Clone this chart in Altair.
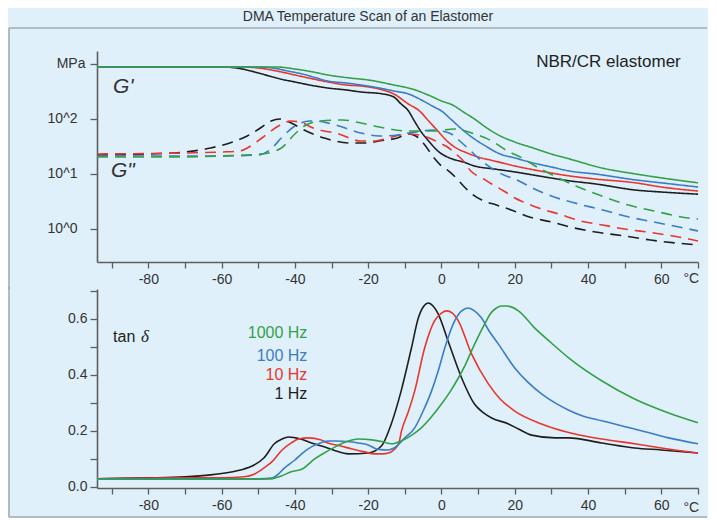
import altair as alt
import pandas as pd

FREQS = ["1 Hz", "10 Hz", "100 Hz", "1000 Hz"]
COLORS = ["#1e1e1e", "#e8362c", "#3a7cc6", "#34a048"]

# ---- G' storage modulus (MPa), solid lines ----
T_GP_1 = [-94, -60, -56, -52, -48, -44, -40, -36, -31, -26, -22, -16, -13, -11, -9, -7.4, -5.5, -3.5, -1, 3, 6, 9, 14.5, 20, 25, 35, 42, 53, 60, 70]
GP_1 = [882, 882, 846, 746, 631, 534, 471, 415, 366, 337, 310, 285, 251, 187, 140, 92, 58, 39.8, 26.2, 18.7, 16.5, 14.0, 12.3, 10.9, 9.6, 7.5, 6.6, 5.1, 4.7, 4.3]
T_GP_10 = [-94, -55, -50, -45, -40, -35, -31, -26, -22, -16, -13, -9, -6, -3.5, -1, 1.5, 4, 7, 10, 14.5, 20, 27, 35, 42, 53, 60, 70]
GP_10 = [882, 882, 846, 746, 631, 534, 471, 415, 398, 337, 285, 187, 140, 92, 60.5, 39.8, 29.7, 24.1, 20.4, 17.2, 14.0, 11.3, 9.2, 8.1, 6.9, 5.8, 4.9]
T_GP_100 = [-94, -50, -46, -42, -38, -35, -31, -26, -22, -17, -13, -9, -5, -2, 0, 2.5, 5.5, 9, 12, 16, 20, 24, 30, 35, 42, 53, 60, 70]
GP_100 = [882, 882, 846, 746, 658, 580, 491, 451, 415, 366, 323, 285, 213, 165, 140, 100, 65.8, 43.3, 32.3, 23.1, 19.6, 16.5, 13.4, 11.3, 10.0, 7.8, 6.9, 5.8]
T_GP_1000 = [-94, -45, -40, -35, -31, -25, -20, -13, -8, -3, 0, 3, 6, 9, 12, 15, 20, 25, 30, 35, 43.7, 53, 60, 70]
GP_1000 = [882, 882, 811, 715, 631, 556, 512, 415, 351, 262, 213, 180, 134, 100, 71.5, 53.4, 38.2, 29.7, 23.1, 18.7, 12.9, 10.0, 8.5, 6.9]

# ---- G'' loss modulus (MPa), dashed lines ----
T_GPP_1 = [-94, -80, -70, -63, -57, -53, -49, -46.5, -44, -41, -38, -32, -25, -20, -17, -12, -9, -7, -5, -2, 0, 2, 4, 6, 8, 11, 15, 19, 24, 30, 35, 42, 50, 57, 64, 70]
GPP_1 = [22.2, 23.1, 25.1, 29.7, 38.2, 49.1, 71.5, 92, 100, 84.6, 65.8, 45.1, 36.6, 36.6, 39.8, 45.1, 53.4, 49.1, 36.6, 19.6, 14.0, 11.3, 8.5, 6.05, 4.51, 3.37, 2.73, 2.22, 1.65, 1.34, 1.09, 0.882, 0.746, 0.631, 0.556, 0.512]
T_GPP_10 = [-94, -70, -60, -55, -53, -49, -44.5, -41, -38, -35, -28, -22, -18, -15.5, -9, -6, -2.7, 0, 2, 4, 6, 8, 11, 13.7, 17, 20, 23, 26.5, 32, 38, 44, 50, 58, 67.5, 70]
GPP_10 = [23.1, 24.1, 25.1, 26.2, 29.7, 45.1, 74.6, 92, 84.6, 68.6, 53.4, 39.8, 39.8, 43.3, 53.4, 51.2, 43.3, 35.1, 29.7, 23.1, 17.2, 11.3, 8.5, 6.58, 4.91, 3.66, 2.97, 2.41, 1.87, 1.40, 1.18, 1.0, 0.846, 0.658, 0.605]
T_GPP_100 = [-94, -60, -50, -46.5, -43.7, -40, -36, -34.7, -31, -28, -22, -17, -12, -9, -5, -2.7, 0, 2.7, 5, 7.4, 11, 14, 17, 20, 25.4, 30, 37.4, 44, 50, 58, 67.5, 70]
GPP_100 = [21.3, 21.3, 22.2, 28.5, 45.1, 74.6, 92, 92, 84.6, 74.6, 55.6, 49.1, 51.2, 55.6, 60.5, 63.1, 60.5, 53.4, 39.8, 28.5, 17.2, 12.3, 9.59, 8.11, 5.34, 3.98, 2.85, 2.22, 1.72, 1.34, 1.0, 0.92]
T_GPP_1000 = [-94, -70, -60, -49, -43.7, -40, -37.4, -33, -27, -22, -17, -9, -2, 3.6, 9, 13.7, 18, 22, 26.5, 32, 38, 43.7, 50, 58, 67.5, 70]
GPP_1000 = [20.4, 20.4, 21.3, 23.1, 29.7, 53.4, 74.6, 92, 95.9, 84.6, 71.5, 60.5, 60.5, 65.8, 53.4, 39.8, 26.2, 19.6, 12.9, 8.46, 5.56, 3.98, 2.85, 2.13, 1.58, 1.52]

# ---- tan delta ----
T_TAN_1 = [-94, -80, -70, -63, -57, -54.6, -51, -48.4, -45.6, -43.5, -41.8, -38.5, -35.5, -32, -29, -25.4, -20, -16.4, -13.7, -11, -8.2, -6.3, -4.8, -3.6, -2.3, -0.9, 1.8, 5.5, 9, 11.5, 13.7, 18.3, 21, 24.6, 31, 34.7, 43.7, 52.7, 60, 70]
TAN_1 = [0.029, 0.032, 0.036, 0.043, 0.054, 0.061, 0.079, 0.104, 0.154, 0.171, 0.178, 0.171, 0.157, 0.143, 0.129, 0.118, 0.121, 0.146, 0.225, 0.343, 0.496, 0.604, 0.646, 0.657, 0.646, 0.618, 0.521, 0.389, 0.296, 0.264, 0.246, 0.225, 0.207, 0.185, 0.175, 0.175, 0.157, 0.139, 0.132, 0.121]
T_TAN_10 = [-94, -70, -60, -53.8, -51, -48.4, -46, -43.7, -41, -39, -36.3, -33, -31, -27.5, -24.6, -21, -18.3, -16, -14.5, -11.7, -10.9, -9, -7.3, -4.6, -1.9, 0, 1.4, 3, 4.6, 8.2, 12.8, 16, 20, 27.3, 36.4, 43.7, 52.7, 60, 70]
TAN_10 = [0.029, 0.032, 0.032, 0.036, 0.046, 0.068, 0.093, 0.129, 0.157, 0.171, 0.175, 0.168, 0.157, 0.146, 0.136, 0.125, 0.118, 0.118, 0.121, 0.154, 0.2, 0.27, 0.343, 0.496, 0.593, 0.621, 0.629, 0.621, 0.593, 0.475, 0.368, 0.314, 0.271, 0.225, 0.189, 0.171, 0.154, 0.139, 0.121]
T_TAN_100 = [-94, -60, -50, -46.4, -44.5, -42.8, -40, -38, -35.5, -33.6, -31, -29, -25, -22.7, -20, -17.3, -14.5, -12.8, -10, -7.3, -5, -2.7, -0.9, 0.9, 3.6, 5.5, 7.3, 9, 10.9, 13, 15.5, 20, 23.5, 27.3, 31, 34.6, 38, 43.7, 52.7, 62, 70]
TAN_100 = [0.029, 0.029, 0.029, 0.032, 0.046, 0.068, 0.096, 0.12, 0.143, 0.154, 0.164, 0.164, 0.161, 0.157, 0.15, 0.134, 0.132, 0.14, 0.175, 0.211, 0.271, 0.343, 0.414, 0.496, 0.593, 0.629, 0.639, 0.629, 0.604, 0.557, 0.511, 0.425, 0.375, 0.332, 0.3, 0.275, 0.256, 0.236, 0.207, 0.175, 0.154]
T_TAN_1000 = [-94, -60, -47, -43.7, -41, -38, -34.6, -32, -29, -26, -22.7, -19, -16, -13.7, -11, -8, -5.5, -3, 0, 2.5, 4.6, 6.5, 8.2, 10, 11.8, 13.5, 15, 16.4, 18, 21, 25.4, 30, 34.7, 43.7, 52.7, 62, 70]
TAN_1000 = [0.027, 0.027, 0.028, 0.039, 0.054, 0.064, 0.1, 0.121, 0.143, 0.161, 0.171, 0.168, 0.161, 0.154, 0.164, 0.186, 0.211, 0.246, 0.296, 0.343, 0.389, 0.436, 0.486, 0.536, 0.582, 0.621, 0.639, 0.646, 0.646, 0.629, 0.568, 0.514, 0.461, 0.379, 0.314, 0.264, 0.229]

# ---- annotation texts / ticks ----
HZ_LABELS = ["1000 Hz", "100 Hz", "10 Hz", "1 Hz"]
HZ_LABEL_Y = [0.55, 0.468, 0.40, 0.332]
X_TICKS = list(range(-90, 71, 10))
TAN_TICKS = [0, 0.1, 0.2, 0.3, 0.4, 0.5, 0.6, 0.7]
G_TICKS = [1, 10, 100, 1000]

def rows(T, V, freq, kind, field):
    return [{"T": t, field: v, "freq": freq, "kind": kind} for t, v in zip(T, V)]

g_rows = []
for T, V, f in [(T_GP_1, GP_1, "1 Hz"), (T_GP_10, GP_10, "10 Hz"), (T_GP_100, GP_100, "100 Hz"), (T_GP_1000, GP_1000, "1000 Hz")]:
    g_rows += rows(T, V, f, "G'", "G")
for T, V, f in [(T_GPP_1, GPP_1, "1 Hz"), (T_GPP_10, GPP_10, "10 Hz"), (T_GPP_100, GPP_100, "100 Hz"), (T_GPP_1000, GPP_1000, "1000 Hz")]:
    g_rows += rows(T, V, f, "G''", "G")
df_g = pd.DataFrame(g_rows)

t_rows = []
for T, V, f in [(T_TAN_1, TAN_1, "1 Hz"), (T_TAN_10, TAN_10, "10 Hz"), (T_TAN_100, TAN_100, "100 Hz"), (T_TAN_1000, TAN_1000, "1000 Hz")]:
    t_rows += rows(T, V, f, "tan", "tan")
df_t = pd.DataFrame(t_rows)

FONT = "Liberation Sans"
FRAME = "#a3aab1"
W = 601
H_TOP = 211
H_BOT = 199
FRAME_RIGHT = 610

X_LABEL_EXPR = (
    "datum.value == -80 ? '-80' : datum.value == -60 ? '-60' : datum.value == -40 ? '-40' : "
    "datum.value == -20 ? '-20' : datum.value == 0 ? '0' : datum.value == 20 ? '20' : "
    "datum.value == 40 ? '40' : datum.value == 60 ? '60' : ''"
)

color_enc = alt.Color("freq:N", scale=alt.Scale(domain=FREQS, range=COLORS), legend=None)

def x_enc():
    return alt.X(
        "T:Q",
        scale=alt.Scale(domain=[-94, 70], nice=False, zero=False),
        axis=alt.Axis(
            values=X_TICKS, tickCount=40,
            labelExpr=X_LABEL_EXPR,
            labelOverlap=False, labelBound=False, labelFlush=False,
            tickSize=6, labelPadding=4, title=None, grid=False,
        ),
    )

# ---------- top panel ----------
y_top = alt.Y(
    "G:Q",
    scale=alt.Scale(type="log", domain=[0.2512, 1722], nice=False),
    axis=alt.Axis(
        values=G_TICKS, tickCount=10,
        labelExpr="datum.value > 500 ? 'MPa' : (datum.value > 50 ? '10^2' : (datum.value > 5 ? '10^1' : '10^0'))",
        labelPadding={"condition": {"test": "datum.value > 500", "value": 5}, "value": 13},
        tickSize=7, title=None, grid=False, labelOverlap=False,
    ),
)

top_lines = alt.Chart(df_g).mark_line(strokeWidth=1.6, interpolate="monotone").encode(
    x=x_enc(),
    y=y_top,
    color=color_enc,
    strokeDash=alt.StrokeDash("kind:N", scale=alt.Scale(domain=["G'", "G''"], range=[[1, 0], [11, 7]]), legend=None),
)

g_text = alt.Chart(pd.DataFrame({"T": [-89.6, -90.2], "G": [382, 11.3], "txt": ["G'", "G\""]})).mark_text(
    align="left", baseline="middle", fontSize=21, fontStyle="italic", font=FONT, color="#333333"
).encode(x="T:Q", y="G:Q", text="txt:N")

nbr_text = alt.Chart(pd.DataFrame({"T": [65.3], "G": [1087], "txt": ["NBR/CR elastomer"]})).mark_text(
    align="right", baseline="middle", fontSize=17, font=FONT, color="#222222"
).encode(x="T:Q", y="G:Q", text="txt:N")

degc_top = alt.Chart(pd.DataFrame({"T": [70.3], "G": [0.125], "txt": ["°C"]})).mark_text(
    align="right", baseline="middle", fontSize=14, font=FONT, color="#333333"
).encode(x="T:Q", y="G:Q", text="txt:N")

one = pd.DataFrame({"a": [0]})
frame_top = alt.Chart(one).mark_rule(color=FRAME, strokeWidth=1.5).encode(
    x=alt.value(-88), x2=alt.value(FRAME_RIGHT), y=alt.value(-23))
frame_left_top = alt.Chart(one).mark_rule(color=FRAME, strokeWidth=1.5).encode(
    x=alt.value(-88), y=alt.value(-23), y2=alt.value(238))

top = alt.layer(top_lines, g_text, nbr_text, degc_top, frame_top, frame_left_top).properties(width=W, height=H_TOP)

# ---------- bottom panel ----------
y_bot = alt.Y(
    "tan:Q",
    scale=alt.Scale(domain=[-0.004, 0.707], nice=False, zero=False),
    axis=alt.Axis(
        values=TAN_TICKS, tickCount=20,
        labelExpr="datum.value < 0.05 ? '0.0' : (datum.value > 0.15 && datum.value < 0.25) ? '0.2' : "
                  "(datum.value > 0.35 && datum.value < 0.45) ? '0.4' : (datum.value > 0.55 && datum.value < 0.65) ? '0.6' : ''",
        tickSize=7, labelPadding=3, title=None, grid=False, labelOverlap=False,
    ),
)

bot_lines = alt.Chart(df_t).mark_line(strokeWidth=1.6, interpolate="monotone").encode(
    x=x_enc(), y=y_bot, color=color_enc)

tan_text = alt.Chart(pd.DataFrame({"T": [-89.6], "tan": [0.536], "txt": ["tan"]})).mark_text(
    align="left", baseline="middle", fontSize=16, font=FONT, color="#222222"
).encode(x="T:Q", y="tan:Q", text="txt:N")

delta_text = alt.Chart(pd.DataFrame({"T": [-82.0], "tan": [0.536], "txt": ["δ"]})).mark_text(
    align="left", baseline="middle", fontSize=17, fontStyle="italic", font="Liberation Serif", color="#222222"
).encode(x="T:Q", y="tan:Q", text="txt:N")

hz_df = pd.DataFrame({"T": [-36.6] * 4, "tan": HZ_LABEL_Y, "txt": HZ_LABELS, "freq": ["1000 Hz", "100 Hz", "10 Hz", "1 Hz"]})
hz_text = alt.Chart(hz_df).mark_text(align="right", baseline="middle", fontSize=16, font=FONT).encode(
    x="T:Q", y="tan:Q", text="txt:N", color=color_enc)

degc_bot = alt.Chart(pd.DataFrame({"T": [70.3], "tan": [-0.075], "txt": ["°C"]})).mark_text(
    align="right", baseline="middle", fontSize=14, font=FONT, color="#333333"
).encode(x="T:Q", y="tan:Q", text="txt:N")

frame_left_bot = alt.Chart(one).mark_rule(color=FRAME, strokeWidth=1.5).encode(
    x=alt.value(-88), y=alt.value(-2), y2=alt.value(228))
frame_bot = alt.Chart(one).mark_rule(color=FRAME, strokeWidth=1.5).encode(
    x=alt.value(-88), x2=alt.value(FRAME_RIGHT), y=alt.value(228))

bottom = alt.layer(bot_lines, tan_text, delta_text, hz_text, degc_bot, frame_left_bot, frame_bot).properties(width=W, height=H_BOT)

chart = alt.vconcat(
    top, bottom, spacing=27, bounds="flush",
    title=alt.TitleParams("DMA Temperature Scan of an Elastomer", fontSize=14, font=FONT, color="#333333",
                          fontWeight="normal", anchor="middle", offset=3, dx=10),
).properties(
    padding={"left": 0, "top": 2, "right": 0, "bottom": 0}
).configure(
    background="#dff0fa"
).configure_view(
    stroke=None
).configure_axis(
    domainColor="#5e5e5e", domainWidth=1.6, tickColor="#5e5e5e", tickWidth=1.3,
    labelColor="#333333", labelFont=FONT, labelFontSize=14,
)

chart.save("out.html", embed_options={"renderer": "svg", "actions": False})
